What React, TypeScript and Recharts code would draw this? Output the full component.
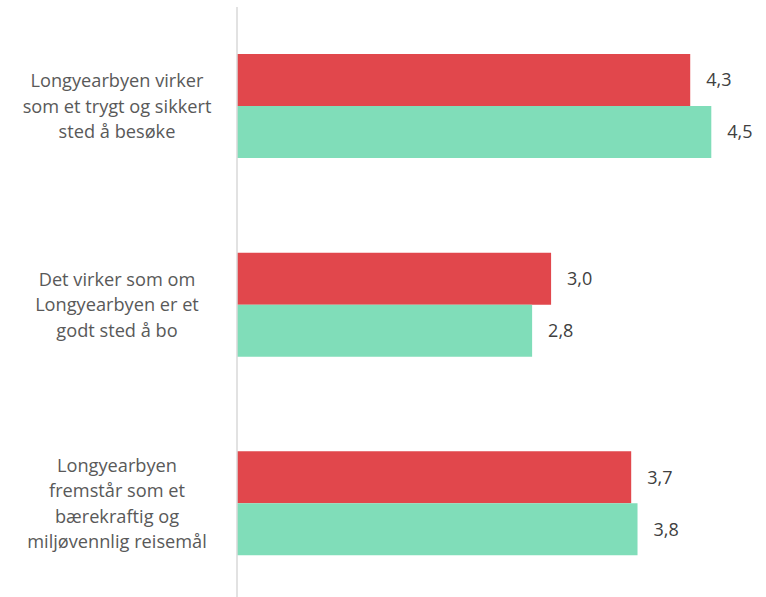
import React from 'react';
import { BarChart, Bar, XAxis, YAxis, LabelList } from 'recharts';

const categories = [
  'Longyearbyen virker som et trygt og sikkert sted å besøke',
  'Det virker som om Longyearbyen er et godt sted å bo',
  'Longyearbyen fremstår som et bærekraftig og miljøvennlig reisemål',
];
const categoryLines = [
  ['Longyearbyen virker', 'som et trygt og sikkert', 'sted å besøke'],
  ['Det virker som om', 'Longyearbyen er et', 'godt sted å bo'],
  ['Longyearbyen', 'fremstår som et', 'bærekraftig og', 'miljøvennlig reisemål'],
];
const seriesA = [4.3, 2.98, 3.74];
const seriesB = [4.5, 2.8, 3.8];

const data = categories.map((c, i) => ({ name: c, idx: i, a: seriesA[i], b: seriesB[i] }));

const FONT = '"Open Sans", "Noto Sans", sans-serif';
const fmt = (v: any) => Number(v).toFixed(1).replace('.', ',');

const Tick = (props: any) => {
  const { y, payload } = props;
  const idx = categories.indexOf(payload.value);
  const lines = categoryLines[idx] || [payload.value];
  const lh = 25.3;
  const start = y - ((lines.length - 1) * lh) / 2;
  return (
    <text textAnchor="middle" fill="#595959" fontSize={18.2} fontFamily={FONT}>
      {lines.map((l, i) => (
        <tspan key={i} x={117} y={start + i * lh} dy="0.35em">{l}</tspan>
      ))}
    </text>
  );
};

export default function App() {
  return (
    <div style={{ position: 'fixed', left: 0, top: 0, width: 766, height: 597, overflow: 'hidden', background: '#fff' }}>
      <BarChart
        width={766}
        height={603}
        data={data}
        layout="vertical"
        margin={{ top: 7, right: 2, bottom: 0, left: 0 }}
        barGap={0}
        barCategoryGap={47}
      >
        <XAxis type="number" domain={[0, 5]} hide />
        <YAxis
          type="category"
          dataKey="name"
          width={237}
          axisLine={{ stroke: '#d9d9d9', strokeWidth: 1.5 }}
          tickLine={false}
          tick={<Tick />}
          interval={0}
        />
        <Bar dataKey="a" fill="#E1474C" barSize={52} isAnimationActive={false}>
          <LabelList dataKey="a" position="right" offset={16} formatter={fmt} fill="#404040" fontSize={18} fontFamily={FONT} />
        </Bar>
        <Bar dataKey="b" fill="#80DDB9" barSize={52} isAnimationActive={false}>
          <LabelList dataKey="b" position="right" offset={16} formatter={fmt} fill="#404040" fontSize={18} fontFamily={FONT} />
        </Bar>
      </BarChart>
    </div>
  );
}
